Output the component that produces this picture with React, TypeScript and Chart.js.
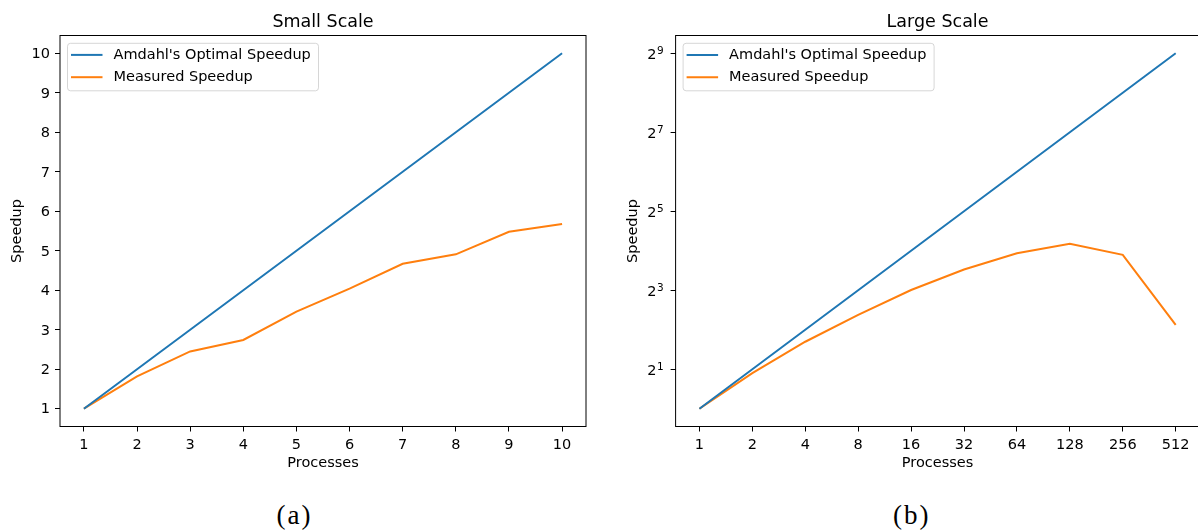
import React, { useEffect, useRef } from "react";
import { Chart, registerables } from "chart.js";

Chart.register(...registerables);

// ---------- data ----------
const smallProcesses = [1, 2, 3, 4, 5, 6, 7, 8, 9, 10];
const smallOptimal = [1, 2, 3, 4, 5, 6, 7, 8, 9, 10];
const smallMeasured = [1.0, 1.82, 2.45, 2.74, 3.46, 4.04, 4.67, 4.91, 5.48, 5.68];
const smallYTicks = [1, 2, 3, 4, 5, 6, 7, 8, 9, 10];

const largeProcesses = [1, 2, 4, 8, 16, 32, 64, 128, 256, 512];
const largeOptimal = [1, 2, 4, 8, 16, 32, 64, 128, 256, 512];
const largeMeasured = [1.0, 1.87, 3.24, 5.2, 8.03, 11.5, 15.3, 18.1, 14.9, 4.36];
const largeYTicks = [2, 8, 32, 128, 512];
const largeYTickBase = "2";
const largeYTickExponents = ["1", "3", "5", "7", "9"];

const seriesLabels = ["Amdahl's Optimal Speedup", "Measured Speedup"];
const titles = ["Small Scale", "Large Scale"];
const xTitle = "Processes";
const yTitle = "Speedup";
const captions = ["(a)", "(b)"];

// ---------- style ----------
const BLUE = "#1f77b4";
const ORANGE = "#ff7f0e";
const FONT = "'DejaVu Sans', sans-serif";
const FS = 14.5;

const framePlugin = {
  id: "frame",
  afterDraw(chart: any) {
    const { ctx, chartArea } = chart;
    ctx.save();
    ctx.strokeStyle = "#000";
    ctx.lineWidth = 1;
    ctx.strokeRect(chartArea.left, chartArea.top, chartArea.right - chartArea.left, chartArea.bottom - chartArea.top);
    ctx.restore();
  },
};

const legendPlugin = {
  id: "legendBox",
  afterDraw(chart: any) {
    const { ctx, chartArea } = chart;
    const x = chartArea.left + 7.5;
    const y = chartArea.top + 7.8;
    const w = 251;
    const h = 47.5;
    const r = 3;
    ctx.save();
    ctx.beginPath();
    ctx.moveTo(x + r, y);
    ctx.lineTo(x + w - r, y);
    ctx.quadraticCurveTo(x + w, y, x + w, y + r);
    ctx.lineTo(x + w, y + h - r);
    ctx.quadraticCurveTo(x + w, y + h, x + w - r, y + h);
    ctx.lineTo(x + r, y + h);
    ctx.quadraticCurveTo(x, y + h, x, y + h - r);
    ctx.lineTo(x, y + r);
    ctx.quadraticCurveTo(x, y, x + r, y);
    ctx.closePath();
    ctx.fillStyle = "rgba(255,255,255,0.8)";
    ctx.fill();
    ctx.strokeStyle = "rgba(204,204,204,0.8)";
    ctx.lineWidth = 1;
    ctx.stroke();
    chart.data.datasets.forEach((ds: any, i: number) => {
      const ry = y + 11.6 + i * 22.3;
      ctx.beginPath();
      ctx.moveTo(x + 3.5, ry);
      ctx.lineTo(x + 35, ry);
      ctx.strokeStyle = ds.borderColor;
      ctx.lineWidth = 2;
      ctx.stroke();
      ctx.fillStyle = "#000";
      ctx.font = `${FS}px ${FONT}`;
      ctx.textAlign = "left";
      ctx.textBaseline = "middle";
      ctx.fillText(ds.label, x + 46, ry + 0.5);
    });
    ctx.restore();
  },
};

// power-of-two tick labels with a raised exponent, like mathtext
const powerLabelsPlugin = {
  id: "powerLabels",
  afterDraw(chart: any) {
    const { ctx, chartArea, scales } = chart;
    ctx.save();
    ctx.fillStyle = "#000";
    ctx.textBaseline = "middle";
    largeYTicks.forEach((v, i) => {
      const py = scales.y.getPixelForValue(v);
      const bx = chartArea.left - 19;
      ctx.font = `${FS}px ${FONT}`;
      ctx.textAlign = "right";
      ctx.fillText(largeYTickBase, bx, py + 2.2);
      ctx.font = `10.5px ${FONT}`;
      ctx.textAlign = "left";
      ctx.fillText(largeYTickExponents[i], bx + 0.5, py - 1.8);
    });
    ctx.restore();
  },
};

function axisCommon(titleText: string, titlePadding: any, tickPadding: number) {
  return {
    bounds: "data",
    ticks: {
      color: "#000",
      font: { family: FONT, size: FS },
      padding: tickPadding,
      maxRotation: 0,
      autoSkip: false,
    },
    grid: {
      display: true,
      drawOnChartArea: false,
      drawTicks: true,
      tickLength: 5,
      color: "#000",
      tickColor: "#000",
    },
    border: { display: false },
    title: {
      display: true,
      text: titleText,
      color: "#000",
      font: { family: FONT, size: FS },
      padding: titlePadding,
    },
  };
}

function makeDatasets(xs: number[], opt: number[], meas: number[]) {
  return [
    {
      label: seriesLabels[0],
      data: xs.map((p, i) => ({ x: p, y: opt[i] })),
      borderColor: BLUE,
      backgroundColor: BLUE,
      borderWidth: 2,
      pointRadius: 0,
      tension: 0,
      fill: false,
    },
    {
      label: seriesLabels[1],
      data: xs.map((p, i) => ({ x: p, y: meas[i] })),
      borderColor: ORANGE,
      backgroundColor: ORANGE,
      borderWidth: 2,
      pointRadius: 0,
      tension: 0,
      fill: false,
    },
  ];
}

function titleOpts(text: string) {
  return {
    display: true,
    text,
    fullSize: false,
    color: "#000",
    font: { family: FONT, size: 17.5, weight: "normal" },
    padding: { top: 11.5, bottom: 3 },
  };
}

function smallConfig(): any {
  const xAx: any = axisCommon(xTitle, { top: 0, bottom: 7.6 }, 5);
  const yAx: any = axisCommon(yTitle, { top: 8.6, bottom: 0 }, 5);
  return {
    type: "line",
    data: { datasets: makeDatasets(smallProcesses, smallOptimal, smallMeasured) },
    options: {
      responsive: false,
      animation: false,
      devicePixelRatio: 1,
      layout: { padding: { left: 0, right: 14, top: 0, bottom: 0 } },
      plugins: {
        legend: { display: false },
        tooltip: { enabled: false },
        title: titleOpts(titles[0]),
      },
      scales: {
        x: {
          ...xAx,
          type: "linear",
          min: 0.55,
          max: 10.45,
          afterBuildTicks: (s: any) => {
            s.ticks = smallProcesses.map((v) => ({ value: v }));
          },
          ticks: { ...xAx.ticks, callback: (v: any) => String(v) },
          afterFit: (s: any) => {
            s.height = 53.5;
          },
        },
        y: {
          ...yAx,
          type: "linear",
          min: 0.55,
          max: 10.45,
          afterBuildTicks: (s: any) => {
            s.ticks = smallYTicks.map((v) => ({ value: v }));
          },
          ticks: { ...yAx.ticks, labelOffset: 1, callback: (v: any) => String(v) },
          afterFit: (s: any) => {
            s.width = 60;
          },
        },
      },
    },
    plugins: [framePlugin, legendPlugin],
  };
}

function largeConfig(): any {
  const xAx: any = axisCommon(xTitle, { top: 0, bottom: 7.6 }, 5);
  const yAx: any = axisCommon(yTitle, { top: 24.6, bottom: 0 }, 3);
  const lo = Math.pow(2, -0.45);
  const hi = Math.pow(2, 9.45);
  return {
    type: "line",
    data: { datasets: makeDatasets(largeProcesses, largeOptimal, largeMeasured) },
    options: {
      responsive: false,
      animation: false,
      devicePixelRatio: 1,
      layout: { padding: { left: 0, right: 0.5, top: 0, bottom: 0 } },
      plugins: {
        legend: { display: false },
        tooltip: { enabled: false },
        title: titleOpts(titles[1]),
      },
      scales: {
        x: {
          ...xAx,
          type: "logarithmic",
          min: lo,
          max: hi,
          afterBuildTicks: (s: any) => {
            s.ticks = largeProcesses.map((v) => ({ value: v }));
          },
          ticks: { ...xAx.ticks, callback: (v: any) => String(v) },
          afterFit: (s: any) => {
            s.height = 53.5;
          },
        },
        y: {
          ...yAx,
          type: "logarithmic",
          min: lo,
          max: hi,
          afterBuildTicks: (s: any) => {
            s.ticks = largeYTicks.map((v) => ({ value: v }));
          },
          ticks: { ...yAx.ticks, display: false },
          afterFit: (s: any) => {
            s.width = 75.6;
          },
        },
      },
    },
    plugins: [framePlugin, legendPlugin, powerLabelsPlugin],
  };
}

function ChartCanvas({ config, left }: { config: () => any; left: number }) {
  const ref = useRef<HTMLCanvasElement | null>(null);
  useEffect(() => {
    if (!ref.current) return;
    const chart = new Chart(ref.current, config());
    return () => chart.destroy();
  }, []);
  return (
    <canvas
      ref={ref}
      width={600}
      height={480}
      style={{ position: "absolute", left, top: 0, width: 600, height: 480, display: "block" }}
    />
  );
}

export default function App() {
  const capStyle: React.CSSProperties = {
    position: "absolute",
    top: 515,
    width: 100,
    marginLeft: -49,
    textAlign: "center",
    transform: "translateY(-50%)",
    fontFamily: "'Liberation Serif', 'DejaVu Serif', serif",
    fontSize: 27,
    letterSpacing: "2px",
    lineHeight: "32px",
    color: "#000",
  };
  return (
    <div
      style={{
        position: "absolute",
        left: 0,
        top: 0,
        width: 1198,
        height: 531,
        overflow: "hidden",
        background: "#fff",
      }}
    >
      <ChartCanvas config={smallConfig} left={0} />
      <ChartCanvas config={largeConfig} left={600} />
      <div style={{ ...capStyle, left: 293.5 }}>{captions[0]}</div>
      <div style={{ ...capStyle, left: 910.7 }}>{captions[1]}</div>
    </div>
  );
}
